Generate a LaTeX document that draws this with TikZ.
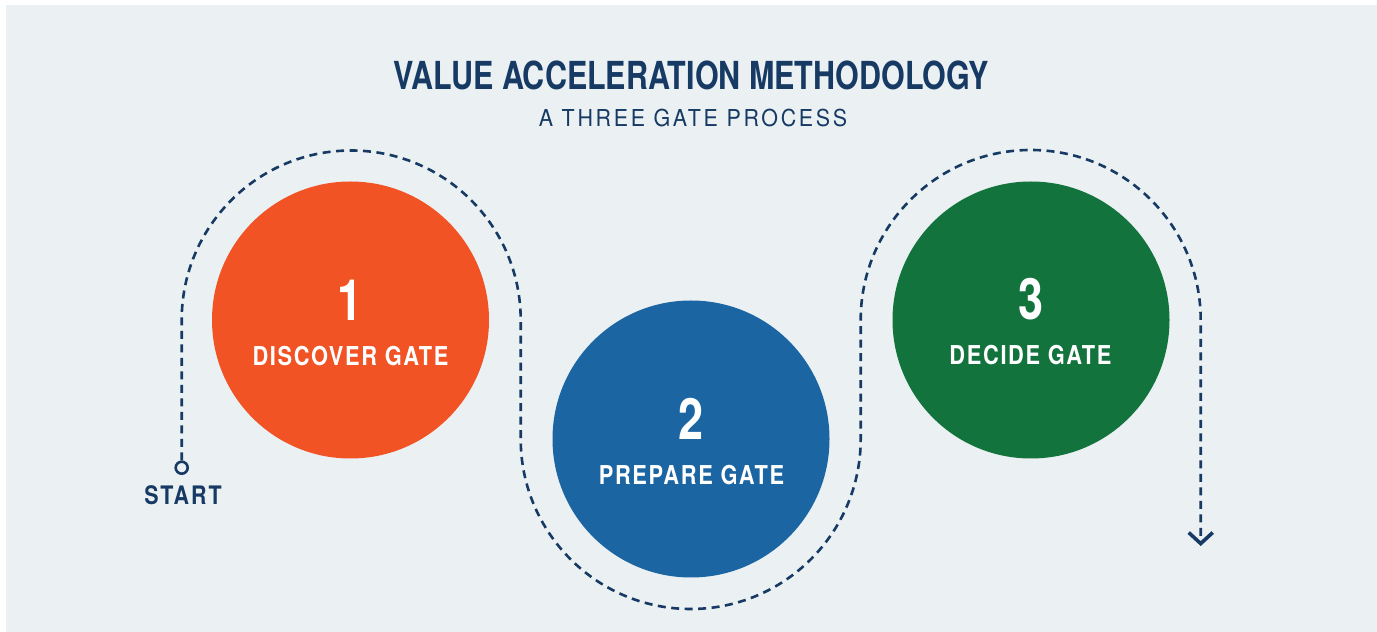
\documentclass[tikz,border=0pt]{standalone}
\usepackage{fontspec}
\setmainfont{TeX Gyre Heros}
\newfontfamily\headfont[FakeStretch=0.79]{TeX Gyre Heros}
\newfontfamily\subfont[FakeStretch=0.92,LetterSpace=11.5]{TeX Gyre Heros}
\newfontfamily\gatefont[FakeStretch=0.84,LetterSpace=6.3]{TeX Gyre Heros}
\newfontfamily\startfont[FakeStretch=0.84,LetterSpace=7.7]{TeX Gyre Heros}
\usetikzlibrary{arrows.meta,positioning}
\definecolor{bgGray}{HTML}{EBF0F3}
\definecolor{navy}{HTML}{163A63}
\definecolor{gateOrange}{HTML}{F15324}
\definecolor{gateBlue}{HTML}{1B65A3}
\definecolor{gateGreen}{HTML}{12733D}
\tikzstyle{gate}=[circle, minimum size=277pt, inner sep=0pt, outer sep=0pt]
\tikzstyle{gateNum}=[text=white, anchor=base, inner sep=0pt, font=\headfont\bfseries\fontsize{57}{57}\selectfont]
\tikzstyle{gateLabel}=[text=white, anchor=base, inner sep=0pt, font=\gatefont\bfseries\fontsize{26}{26}\selectfont]
\tikzstyle{trail}=[draw=navy, line width=2.6pt, dash pattern=on 8pt off 5.5pt]
\tikzstyle{startDot}=[circle, draw=navy, fill=bgGray, line width=2.6pt, minimum size=12pt, inner sep=0pt]

\begin{document}
\begin{tikzpicture}[x=1pt, y=1pt]
      \useasboundingbox (0,0) rectangle (1377,632);
      \fill[white] (0,0) rectangle (1377,632);
      \fill[bgGray] (6,0) rectangle (1377,627);
      \node(title) [anchor=base, text=navy, font=\headfont\bfseries\fontsize{38.6}{38.6}\selectfont] at (691,542.7){VALUE ACCELERATION METHODOLOGY};
      \node(subtitle) [anchor=base, text=navy, font=\subfont\fontsize{23.3}{23.3}\selectfont] at (693,505.3){A THREE GATE PROCESS};
      \node(g1) [gate, fill=gateOrange] at (350.5,312){};
      \node(g2) [gate, fill=gateBlue] at (691,193){};
      \node(g3) [gate, fill=gateGreen] at (1031,312){};
      \node(n1) [gateNum] at (350.5,311){1};
      \node(n2) [gateNum] at (691,192){2};
      \node(n3) [gateNum] at (1031,312){3};
      \node(l1) [gateLabel] at (350.5,266.7){DISCOVER GATE};
      \node(l2) [gateLabel] at (691.5,147){PREPARE GATE};
      \node(l3) [gateLabel] at (1030.5,267){DECIDE GATE};
      \node(start) [startDot] at (181.7,164.3){};
      \node(startText) [anchor=base, text=navy, font=\startfont\bfseries\fontsize{25.5}{25.5}\selectfont] at (183,127){START};
      \coordinate(finish) at (1200.7,86);
      \draw[trail, -{Straight Barb[length=11pt, width=24pt, line width=3.6pt]}] (start.north) -- (start |- g1)
        arc[start angle=180, end angle=0, radius=169.5] -- ++(0,-119)
        arc[start angle=180, end angle=360, radius=170] -- ++(0,119)
        arc[start angle=180, end angle=0, radius=170] -- (finish);
    \end{tikzpicture}
\end{document}
